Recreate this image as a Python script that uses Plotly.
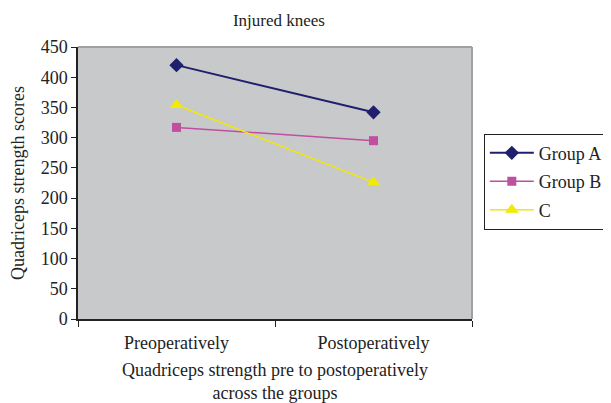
import plotly.graph_objects as go

categories = ["Preoperatively", "Postoperatively"]
group_a = [420, 342]
group_b = [317, 295]
group_c = [354, 226]
y_ticks = [0, 50, 100, 150, 200, 250, 300, 350, 400, 450]

FONT = "Liberation Serif, Times New Roman, serif"
TXT = "#222222"

fig = go.Figure()
fig.add_trace(go.Scatter(x=categories, y=group_a, name="Group A", mode="lines+markers",
                         legendgroup="a",
                         line=dict(color="#1F1F6E", width=2),
                         marker=dict(symbol="diamond", size=11, color="#1F1F6E")))
fig.add_trace(go.Scatter(x=categories, y=group_b, name="Group B", mode="lines+markers",
                         legendgroup="b",
                         line=dict(color="#C04FA0", width=1.5),
                         marker=dict(symbol="square", size=9, color="#C04FA0")))
fig.add_trace(go.Scatter(x=categories, y=group_c, name="C", mode="lines+markers",
                         legendgroup="c",
                         line=dict(color="#F2EA00", width=1.5),
                         marker=dict(symbol="triangle-up", size=12, color="#F2EA00")))

fig.update_layout(
    width=611, height=403,
    margin=dict(l=70, r=147, t=39, b=92, autoexpand=False),
    paper_bgcolor="white",
    plot_bgcolor="#C8C9CB",
    font=dict(family=FONT, size=18, color=TXT),
    title=dict(text="Injured knees", x=0.4435, xanchor="center",
               y=0.970, yanchor="middle",
               font=dict(family=FONT, size=17, color=TXT)),
    showlegend=True,
    legend=dict(x=1.030, xanchor="left", y=0.505, yanchor="middle",
                bordercolor=TXT, borderwidth=1, bgcolor="white",
                traceorder="grouped", tracegroupgap=2, itemwidth=44,
                font=dict(family=FONT, size=18, color=TXT)),
    shapes=[dict(type="line", xref="paper", yref="paper", x0=0, x1=1, y0=1, y1=1,
                 line=dict(color="#A0A0A0", width=2)),
            dict(type="line", xref="paper", yref="paper", x0=1, x1=1, y0=0, y1=1,
                 line=dict(color="#A0A0A0", width=2))],
)
fig.update_xaxes(
    type="category", range=[-0.5, 1.5], tickson="boundaries",
    ticks="outside", ticklen=6, tickcolor=TXT,
    showline=True, linecolor=TXT, linewidth=1.5,
    showgrid=False, zeroline=False, ticklabelstandoff=7,
    tickfont=dict(family=FONT, size=18, color=TXT),
    title=dict(text="Quadriceps strength pre to postoperatively<br>across the groups",
               font=dict(family=FONT, size=18, color=TXT), standoff=11),
)
fig.update_yaxes(
    range=[0, 450], tickvals=y_ticks,
    ticks="outside", ticklen=5, tickcolor=TXT,
    showline=True, linecolor=TXT, linewidth=1.5,
    showgrid=False, zeroline=False,
    tickfont=dict(family=FONT, size=18, color=TXT),
    title=dict(text="Quadriceps strength scores",
               font=dict(family=FONT, size=18, color=TXT), standoff=13),
)

fig.write_html("out.html")
